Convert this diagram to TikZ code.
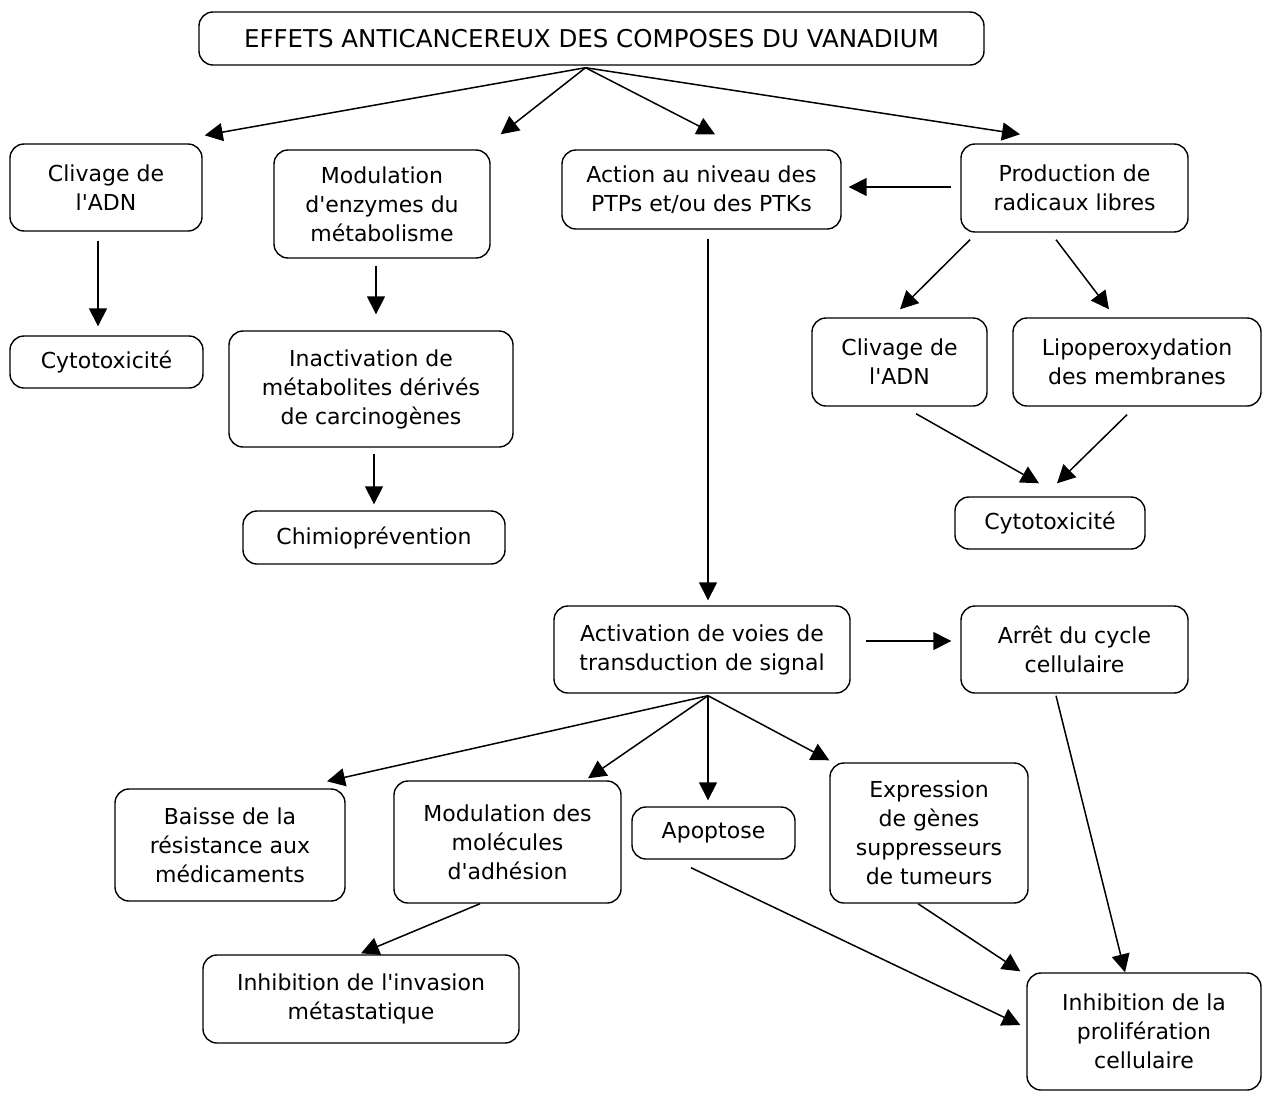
\documentclass[tikz,border=0pt]{standalone}
\usepackage{fontspec}
\setmainfont{DejaVu Sans}[Ligatures=TeXOff]
\usetikzlibrary{arrows.meta,calc}
\begin{document}
\begin{tikzpicture}[x=1pt,y=-1pt,
  box/.style={draw,line width=1.4pt,rounded corners=14pt,align=center,inner sep=0pt,
    font=\fontsize{22}{29}\selectfont},
  arr/.style={line width=1.5pt,-{Triangle[length=18pt,width=18pt]}}]
\useasboundingbox (0,0) rectangle (1265,1092);
\node[box,minimum width=785pt,minimum height=53pt,font=\fontsize{24.5}{29}\selectfont] (title) at (591.5,38.5) {EFFETS ANTICANCEREUX DES COMPOSES DU VANADIUM};
\node[box,minimum width=192pt,minimum height=87pt] (cliv1) at (106,187.5) {Clivage de\\l'ADN};
\node[box,minimum width=216pt,minimum height=108pt] (modenz) at (382,204) {Modulation\\d'enzymes du\\métabolisme};
\node[box,minimum width=279pt,minimum height=79pt] (action) at (701.5,189.5) {Action au niveau des\\PTPs et/ou des PTKs};
\node[box,minimum width=227pt,minimum height=88pt] (prod) at (1074.5,188) {Production de\\radicaux libres};
\node[box,minimum width=193pt,minimum height=52pt] (cyto1) at (106.5,362) {Cytotoxicité};
\node[box,minimum width=284pt,minimum height=116pt] (inact) at (371,389) {Inactivation de\\métabolites dérivés\\de carcinogènes};
\node[box,minimum width=262pt,minimum height=53pt] (chimio) at (374,537.5) {Chimioprévention};
\node[box,minimum width=175pt,minimum height=88pt] (cliv2) at (899.5,362) {Clivage de\\l'ADN};
\node[box,minimum width=248pt,minimum height=88pt] (lipo) at (1137,362) {Lipoperoxydation\\des membranes};
\node[box,minimum width=190pt,minimum height=52pt] (cyto2) at (1050,523) {Cytotoxicité};
\node[box,minimum width=296pt,minimum height=87pt] (activ) at (702,649.5) {Activation de voies de\\transduction de signal};
\node[box,minimum width=227pt,minimum height=87pt] (arret) at (1074.5,649.5) {Arrêt du cycle\\cellulaire};
\node[box,minimum width=230pt,minimum height=112pt] (baisse) at (230,845) {Baisse de la\\résistance aux\\médicaments};
\node[box,minimum width=227pt,minimum height=122pt] (modmol) at (507.5,842) {Modulation des\\molécules\\d'adhésion};
\node[box,minimum width=163pt,minimum height=52pt] (apop) at (713.5,833) {Apoptose};
\node[box,minimum width=198pt,minimum height=140pt] (expr) at (929,833) {Expression\\de gènes\\suppresseurs\\de tumeurs};
\node[box,minimum width=316pt,minimum height=88pt] (invas) at (361,999) {Inhibition de l'invasion\\métastatique};
\node[box,minimum width=234pt,minimum height=117pt] (prolif) at (1144,1031.5) {Inhibition de la\\prolifération\\cellulaire};
% connectors
\draw[arr] ($(title.south)+(-6,2)$) -- ($(cliv1.north east)+(2,-8)$);
\draw[arr] ($(title.south)+(-6,2)$) -- ($(modenz.north east)+(10,-15)$);
\draw[arr] ($(title.south)+(-6,2)$) -- ($(action.north)+(13.5,-15)$);
\draw[arr] ($(title.south)+(-6,2)$) -- ($(prod.north)+(-54.5,-9)$);
\draw[arr] ($(prod.west)+(-9,-1)$) -- ($(action.east)+(7,-2.5)$);
\draw[arr] ($(cliv1.south)+(-8,9)$) -- ($(cyto1.north)+(-8.5,-9)$);
\draw[arr] ($(modenz.south)+(-6,7)$) -- ($(inact.north)+(5,-16)$);
\draw[arr] ($(inact.south)+(3,6)$) -- ($(chimio.north)+(0,-6)$);
\draw[arr] ($(action.south)+(6.5,9)$) -- ($(activ.north)+(6,-5)$);
\draw[arr] ($(prod.south)+(-104.5,7)$) -- ($(cliv2.north)+(0.5,-8)$);
\draw[arr] ($(prod.south)+(-18.5,7)$) -- ($(lipo.north)+(-28,-8)$);
\draw[arr] ($(cliv2.south)+(16.5,7)$) -- ($(cyto2.north)+(-11,-13)$);
\draw[arr] ($(lipo.south)+(-10,8)$) -- ($(cyto2.north)+(7,-13)$);
\draw[arr] ($(activ.east)+(15,-8.5)$) -- ($(arret.west)+(-9,-8.5)$);
\draw[arr] ($(activ.south)+(6,2)$) -- ($(baisse.north)+(97,-7)$);
\draw[arr] ($(activ.south)+(6,2)$) -- ($(modmol.north)+(80.5,-2)$);
\draw[arr] ($(activ.south)+(6,2)$) -- ($(apop.north)+(-5.5,-6)$);
\draw[arr] ($(activ.south)+(6,2)$) -- ($(expr.north west)+(0,-2)$);
\draw[arr] ($(modmol.south)+(-27.5,0)$) -- ($(invas.north)+(0,-1)$);
\draw[arr] ($(apop.south)+(-22.5,8)$) -- ($(prolif.west)+(-6,-6.5)$);
\draw[arr] ($(expr.south)+(-11,0)$) -- ($(prolif.north west)+(-6,-1)$);
\draw[arr] ($(arret.south)+(-18.5,2)$) -- ($(prolif.north)+(-19,0)$);
\end{tikzpicture}
\end{document}
